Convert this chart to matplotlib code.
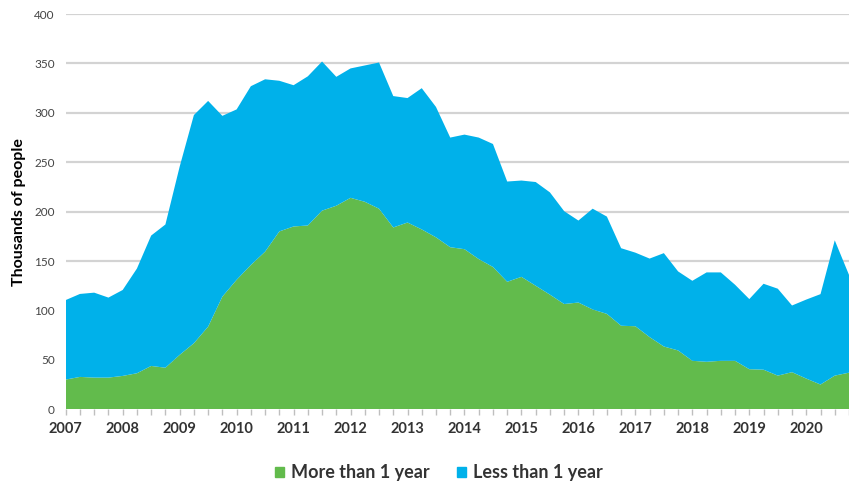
import numpy as np
import matplotlib
matplotlib.use("Agg")
import matplotlib.pyplot as plt
from matplotlib.patches import Patch

# quarterly series, 2007 Q1 .. 2020 Q4 (thousands of people)
more_than_1yr = [30, 32.7, 32, 32, 33.7, 36.4, 43.8, 42, 55, 66.8, 83.6, 114,
                 131, 146, 159.5, 180, 185, 186, 201, 206, 214, 210, 203, 184,
                 189, 182, 174, 164, 162, 152, 144, 129, 134, 125, 116, 106.5,
                 108, 101, 96.5, 84.5, 84, 73, 63.5, 59.5, 49, 48, 49, 49,
                 40.5, 40, 34, 37.5, 31, 25, 34, 37]
less_than_1yr = [80.5, 84, 86, 81, 87, 106, 132, 145, 190.5, 231, 228.5, 183,
                 172.5, 181, 174.5, 152.5, 143, 151, 151, 130.5, 131, 138, 148, 133,
                 126, 143, 132, 111, 116, 123, 124.5, 101.5, 97.5, 105, 103.5, 94,
                 83, 102, 98.5, 78.5, 74.5, 79.5, 94.5, 80, 81, 90.5, 89.5, 77,
                 71, 87, 88, 67.5, 80, 91.5, 137, 99]
years = list(range(2007, 2021))
series_labels = ["More than 1 year", "Less than 1 year"]

GREEN = "#62bb4c"
BLUE = "#00b1ea"


def main():
    plt.rcParams["font.family"] = ["Lato", "DejaVu Sans"]

    fig = plt.figure(figsize=(8.49, 4.86), dpi=100)
    ax = fig.add_axes([0.0774, 0.158, 0.9226, 0.813])

    quarters = np.arange(len(more_than_1yr))
    ax.stackplot(quarters, more_than_1yr, less_than_1yr,
                 colors=[GREEN, BLUE], linewidth=0)

    ax.set_xlim(0, 54.86)
    ax.set_ylim(0, 400)
    ax.set_yticks(range(0, 401, 50))
    ax.grid(axis="y", color="#d3d3d3", linewidth=1.6)
    ax.set_axisbelow(True)
    for s in ax.spines.values():
        s.set_visible(False)

    ax.set_xticks([4 * i for i in range(len(years))])
    ax.set_xticklabels([str(y) for y in years], fontsize=10.5,
                       fontweight="bold", color="#333333")
    ax.set_xticks(quarters, minor=True)
    ax.tick_params(axis="x", which="both", length=4, color="#bfbfbf",
                   width=1, pad=5)
    ax.tick_params(axis="y", length=0, labelsize=8.5, labelcolor="#444444",
                   pad=8)

    ax.set_ylabel("Thousands of people", fontsize=11.5, fontweight="bold",
                  color="black", labelpad=6)

    handles = [Patch(color=GREEN), Patch(color=BLUE)]
    fig.legend(handles, series_labels, loc="center", ncol=2,
               bbox_to_anchor=(0.517, 0.027), frameon=False,
               prop={"size": 13, "weight": "bold"}, labelcolor="#333333",
               handlelength=0.5, handleheight=0.5, handletextpad=0.4,
               columnspacing=1.5)

    fig.savefig("out.png", dpi=100)
    plt.close(fig)


if __name__ == "__main__":
    main()
